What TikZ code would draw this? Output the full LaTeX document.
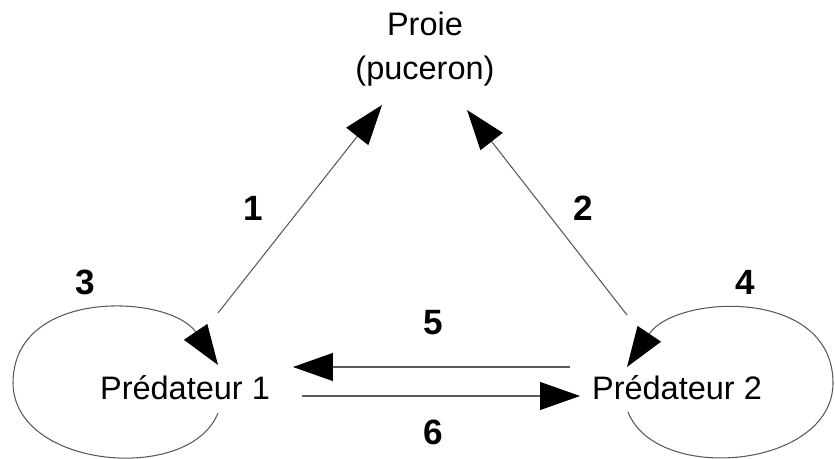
\documentclass[tikz,border=0pt]{standalone}
\usepackage{fontspec}
\setmainfont{Liberation Sans}
\usetikzlibrary{arrows.meta}

\begin{document}
\begin{tikzpicture}[x=0.02cm, y=0.02cm]
    % Définition des styles
    \tikzstyle{espece}=[font=\fontsize{18.5}{25}\selectfont, align=center, inner sep=0pt]
    \tikzstyle{numero}=[font=\fontsize{20}{24}\selectfont\bfseries, inner sep=0pt]
    \tikzstyle{fleche}=[black!65, line width=0.6pt, -{Triangle[length=0.8cm, width=0.56cm, color=black]}]
    \useasboundingbox (0,0) rectangle (835,459);
    % Les trois espèces
    \node[espece] (proie) at (425,410) {Proie\\(puceron)};
    \node[espece] (pred1) at (185,71) {Prédateur 1};
    \node[espece] (pred2) at (677,71) {Prédateur 2};
    % Prédation de la proie (1 et 2)
    \draw[fleche] ([shift={(33,75)}]pred1.center) -- ([shift={(-43,-56)}]proie.center);
    \draw[fleche] ([shift={(-50,73)}]pred2.center) -- ([shift={(42,-61)}]proie.center);
    \node[numero] (n1) at (253,251) {1};
    \node[numero] (n2) at (583,251) {2};
    % Cannibalisme (3 et 4)
    \draw[fleche] ([shift={(33,-25)}]pred1.center) .. controls (190,-25) and (15,-10) .. (13,75)
        .. controls (12,172) and (170,165) .. ([shift={(33,23)}]pred1.center);
    \draw[fleche] ([shift={(-49,-24)}]pred2.center) .. controls (656,-25) and (831,-10) .. (833,75)
        .. controls (834,172) and (676,165) .. ([shift={(-50,21)}]pred2.center);
    \node[numero] (n3) at (85,177) {3};
    \node[numero] (n4) at (745,177) {4};
    % Prédation intraguilde (5 et 6)
    \draw[fleche] ([shift={(-107,21)}]pred2.center) -- ([shift={(108,21)}]pred1.center);
    \draw[fleche] ([shift={(117,-8)}]pred1.center) -- ([shift={(-97,-8)}]pred2.center);
    \node[numero] (n5) at (433,136) {5};
    \node[numero] (n6) at (433,27) {6};
\end{tikzpicture}
\end{document}
